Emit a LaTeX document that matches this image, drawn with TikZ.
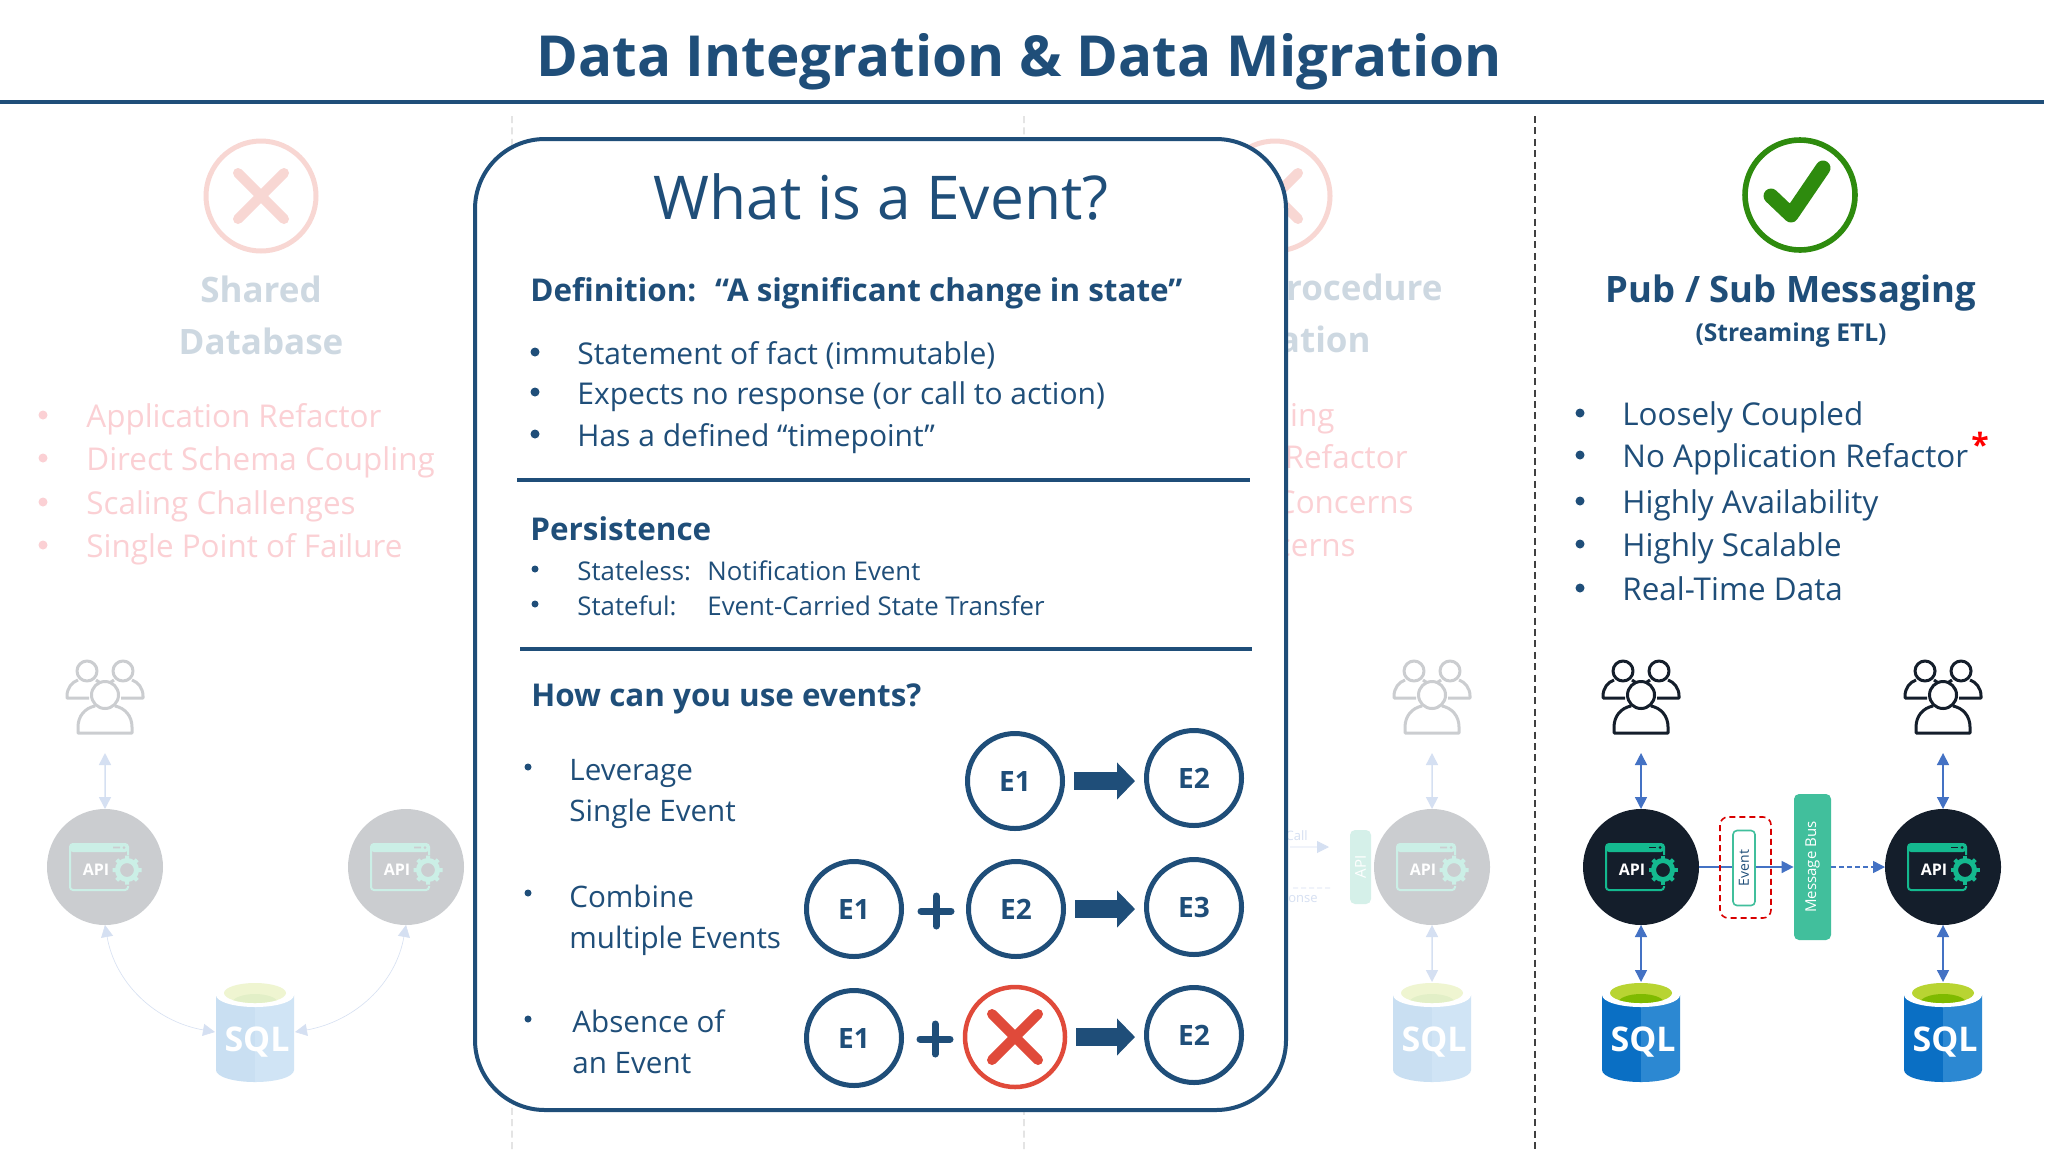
\documentclass[tikz,border=0pt]{standalone}
\usepackage{fontspec}
\setmainfont{Open Sans}
\usetikzlibrary{arrows.meta}

\definecolor{navy}{HTML}{1F4E79}
\definecolor{apidark}{HTML}{141E2B}
\definecolor{apigreen}{HTML}{14B98F}
\definecolor{busgreen}{HTML}{41BF9C}
\definecolor{linkblue}{HTML}{4472C4}
\definecolor{sqlleft}{HTML}{0A6FC4}
\definecolor{sqlright}{HTML}{2C88D2}
\definecolor{sqlcap}{HTML}{B8D432}
\definecolor{sqlcapdark}{HTML}{7FBA00}
\definecolor{crossred}{HTML}{E04A3A}
\definecolor{softred}{HTML}{EE2A3C}
\definecolor{okgreen}{HTML}{2E8B0E}

\newcommand{\fsz}[2]{\fontsize{#1pt}{#2pt}\selectfont}

\tikzset{
  headline/.style={text=navy, font=\fsz{28.3}{32}\bfseries, inner sep=0},
  colhead/.style={text=navy, font=\fsz{17.5}{26}\bfseries, align=center, inner sep=0},
  panelhead/.style={text=navy, font=\fsz{15.7}{18}\bfseries, anchor=west, inner sep=0},
  listitem/.style={text=navy, font=\fsz{15.7}{18}, anchor=west, inner sep=0, text height=1.5ex, text depth=.25ex},
  defitem/.style={listitem, font=\fsz{15}{18}},
  smallitem/.style={listitem, font=\fsz{12.9}{15}},
  useitem/.style={text=navy, font=\fsz{14.8}{20.5}, anchor=west, align=left, inner sep=0},
  reditem/.style={listitem, text=softred},
  bulletdot/.style={circle, fill=navy, inner sep=0, minimum size=4.5pt},
  smalldot/.style={bulletdot, minimum size=3.5pt},
  redring/.style={circle, draw=crossred, line width=2.5pt, inner sep=0, minimum size=55pt},
  redcross/.style={crossred, line width=5pt, line cap=round},
  okring/.style={circle, draw=okgreen, line width=2.8pt, inner sep=0, minimum size=55pt},
  dashrule/.style={draw=black!75, line width=.7pt, dash pattern=on 3.5pt off 2.2pt},
  panelbox/.style={draw=navy, fill=white, line width=2pt, rounded corners=35pt},
  sectionrule/.style={draw=navy, line width=1.75pt},
  eventnode/.style={circle, draw=navy, line width=2.5pt, inner sep=0, minimum size=47.5pt, text=navy, font=\fsz{14}{16}\bfseries},
  nonenode/.style={circle, draw=crossred, line width=2.25pt, inner sep=0, minimum size=50pt},
  bigarrow/.style={navy, line width=9pt, shorten <=4.5pt, shorten >=4.5pt, -{Triangle[length=9pt, width=18pt]}},
  plusmark/.style={navy, line width=3.5pt, line cap=round},
  linkboth/.style={linkblue, line width=.75pt, {Triangle[length=6pt, width=6pt]}-{Triangle[length=6pt, width=6pt]}},
  linkthin/.style={linkboth, line width=.3pt},
  linkone/.style={linkblue, line width=.75pt, -{Triangle[length=6pt, width=6pt]}},
  linkdash/.style={linkone, dash pattern=on 2.5pt off 1.5pt},
  eventring/.style={draw=red!85!black, line width=.8pt, dash pattern=on 3pt off 2pt, rounded corners=4pt},
  eventbox/.style={draw=busgreen, fill=white, line width=.8pt, rounded corners=2pt, inner sep=0, minimum width=37.5pt, minimum height=11pt, rotate=90, text=navy, font=\fsz{7}{8}},
  busbox/.style={fill=busgreen, rounded corners=2.5pt, inner sep=0, minimum width=73pt, minimum height=18.5pt, rotate=90, text=white, font=\fsz{7.5}{9}},
  apibar/.style={busbox, minimum width=37pt, minimum height=10.5pt},
  tinytext/.style={text=linkblue, font=\fsz{6.5}{8}, anchor=east, inner sep=0},
  apiicon/.pic={
    \node[circle, fill=apidark, inner sep=0, outer sep=0, minimum size=58pt] (-n) at (0,0) {};
    \fill[apigreen, rounded corners=1.5pt] (-35,-23) rectangle (23,-15);
    \draw[apigreen, line width=1pt, rounded corners=1.5pt] (23,-12) -- (23,-23) -- (-35,-23) -- (-35,23) -- (23,23) -- (23,19);
    \draw[apidark, line width=.8pt] (8,-19.5) -- (15,-19.5);
    \fill[apidark] (19,-19.5) circle (1.5);
    \node[text=white, font=\fsz{8}{9}\bfseries, inner sep=0] (-t) at (-9,3) {API};
    \draw[apigreen, line width=2.5pt] (22,3) circle (9.5);
    \foreach \a in {0,45,...,315}
      \draw[apigreen, line width=2pt] (22,3) ++(\a:11) -- ++(\a:3.5);
  },
  usersicon/.pic={
    \node[inner sep=0, outer sep=0, minimum size=56pt] (-n) at (0,0) {};
    \draw[apidark, line width=1.5pt, line join=round]
      (0,-2) circle (13.5) (-18,-26) circle (10) (18,-26) circle (10)
      (10,9) .. controls (20,11) and (27,19) .. (27,30) -- (27,36) -- (-27,36) -- (-27,30) .. controls (-27,19) and (-20,11) .. (-10,9)
      (-16,1) -- (-38,1) -- (-38,-1) .. controls (-38,-9) and (-33,-15) .. (-27,-17)
      (16,1) -- (38,1) -- (38,-1) .. controls (38,-9) and (33,-15) .. (27,-17)
      (-9,-17) -- (-6,-15) (9,-17) -- (6,-15);
  },
  sqlicon/.pic={
    \node[inner sep=0, outer sep=0, minimum width=40pt, minimum height=50pt] (-n) at (0,0) {};
    \fill[sqlleft] (0,-37) -- (-39,-37) -- (-39,38) .. controls (-39,45) and (-21,50) .. (0,50) -- cycle;
    \fill[sqlright] (0,-37) -- (39,-37) -- (39,38) .. controls (39,45) and (21,50) .. (0,50) -- cycle;
    \fill[white] (0,-37) ellipse [x radius=39, y radius=12];
    \fill[sqlcap] (0,-39) ellipse [x radius=31, y radius=10];
    \begin{scope}
      \clip (0,-39) ellipse [x radius=31, y radius=10];
      \fill[sqlcapdark] (0,-29) ellipse [x radius=23, y radius=9];
    \end{scope}
    \node[text=white, font=\fsz{17}{18}\bfseries, inner sep=0] (-t) at (2,10) {SQL};
  }
}

\begin{document}
\begin{tikzpicture}[x=.5pt, y=-.5pt]

\useasboundingbox (0,0) rectangle (2048,1152);
\fill[white] (0,0) rectangle (2048,1152);

\begin{scope}[transparency group, opacity=.22]
\draw[dashrule] (512,116) -- (512,1152);
\draw[dashrule] (1024,116) -- (1024,1152);

\node[redring] (crossA) at (261,196) {};
\draw[redcross] (crossA.center) ++(-23,-23) -- ++(46,46);
\draw[redcross] (crossA.center) ++(23,-23) -- ++(-46,46);
\node[colhead] (sharedHead) at (261,315) {Shared\\Database};

\foreach \ypos/\itemtext [count=\i] in {417/Application Refactor, 460/Direct Schema Coupling, 504/Scaling Challenges, 547/Single Point of Failure}{
  \node[bulletdot, fill=softred] (dbDot\i) at (43,\ypos-2) {};
  \node[reditem] (dbItem\i) at (86,\ypos+4) {\itemtext};
}

\pic (usersA) at (105,697) {usersicon};
\pic (apiA) at (105,867) {apiicon};
\pic (apiB) at (406,867) {apiicon};
\pic (sqlA) at (255,1032) {sqlicon};
\draw[linkboth] (usersA-n.south) -- (apiA-n.north);
\draw[linkthin] (apiA-n.south) to[out=-80, in=170] (sqlA-n.west);
\draw[linkthin] (apiB-n.south) to[out=-100, in=10] (sqlA-n.east);

\node[redring] (crossB) at (1275,196) {};
\draw[redcross] (crossB.center) ++(-23,-23) -- ++(46,46);
\draw[redcross] (crossB.center) ++(23,-23) -- ++(-46,46);
\node[colhead, anchor=east] (procHead) at (1443,287) {rocedure};
\node[colhead, anchor=east] (procTail) at (1371,339) {ation};

\node[reditem, anchor=east] (procItem1) at (1335,420) {ling};
\node[reditem, anchor=east] (procItem2) at (1408,462) {Refactor};
\node[reditem, anchor=east] (procItem3) at (1414,507) {Concerns};
\node[reditem, anchor=east] (procItem4) at (1356,550) {cerns};

\pic (usersB) at (1432,697) {usersicon};
\pic (apiC) at (1432,867) {apiicon};
\pic (sqlB) at (1432,1032) {sqlicon};
\draw[linkboth] (usersB-n.south) -- (apiC-n.north);
\draw[linkboth] (apiC-n.south) -- (sqlB-n.north);

\node[apibar] (apiBar) at (1360.5,867) {API};
\coordinate (callStart) at (1290,847);
\coordinate (callEnd) at (1329,847);
\coordinate (respStart) at (1330,888);
\coordinate (respEnd) at (1290,888);
\draw[linkone, line width=.4pt] (callStart) -- (callEnd);
\draw[linkblue, line width=.4pt, dash pattern=on 2.5pt off 1.5pt] (respStart) -- (respEnd);
\node[tinytext] (callText) at (1308,836) {Call};
\node[tinytext] (respText) at (1318,899) {onse};
\end{scope}

\node[headline] (titleText) at (1019,62) {Data Integration \& Data Migration};
\draw[sectionrule] (0,102) -- (2044,102);
\draw[dashrule] (1535,116) -- (1535,1152);

\draw[panelbox] (475,139) rectangle (1286,1110);
\node[text=navy, font=\fsz{30.2}{34}, inner sep=0] (panelTitle) at (881,197) {What is a Event?};

\node[panelhead] (defHead) at (530,293) {Definition:\hspace{.6em}“A significant change in state”};
\foreach \ypos/\itemtext [count=\i] in {354/Statement of fact (immutable), 394/Expects no response (or call to action), 436/Has a defined “timepoint”}{
  \node[bulletdot] (defDot\i) at (535,\ypos-2) {};
  \node[defitem] (defItem\i) at (577,\ypos+4) {\itemtext};
}
\draw[sectionrule] (517,480) -- (1250,480);

\node[panelhead] (persistHead) at (530,529) {Persistence};
\node[smalldot] (persistDot1) at (535,569) {};
\node[smallitem] (persistItem1) at (577,574) {Stateless:};
\node[smallitem] (persistText1) at (707,574) {Notification Event};
\node[smalldot] (persistDot2) at (535,604) {};
\node[smallitem] (persistItem2) at (577,609) {Stateful:};
\node[smallitem] (persistText2) at (707,609) {Event-Carried State Transfer};
\draw[sectionrule] (520,649) -- (1252,649);

\node[panelhead] (useHead) at (531,699) {How can you use events?};
\node[smalldot] (useDot1) at (528,767) {};
\node[useitem] (useItem1) at (569,794) {Leverage\\Single Event};
\node[smalldot] (useDot2) at (528,893) {};
\node[useitem] (useItem2) at (569,920) {Combine\\multiple Events};
\node[smalldot] (useDot3) at (528,1019) {};
\node[useitem] (useItem3) at (572,1042) {Absence of\\an Event};

\node[eventnode] (oneA) at (1015,781) {E1};
\node[eventnode] (oneB) at (1194,778) {E2};
\draw[bigarrow] (oneA.east) -- (oneA.east -| oneB.west);

\node[eventnode] (twoA) at (854,909) {E1};
\node[eventnode] (twoB) at (1016,909) {E2};
\node[eventnode] (twoC) at (1194,907) {E3};
\draw[plusmark] (921,911) -- (951,911);
\draw[plusmark] (936,896) -- (936,926);
\draw[bigarrow] (twoB.east) -- (twoB.east -| twoC.west);

\node[eventnode] (threeA) at (854,1038) {E1};
\node[nonenode] (threeB) at (1015,1037) {};
\node[eventnode] (threeC) at (1194,1035) {E2};
\draw[plusmark] (920,1039) -- (950,1039);
\draw[plusmark] (935,1024) -- (935,1054);
\draw[redcross] (threeB.center) ++(-23,-23) -- ++(46,46);
\draw[redcross] (threeB.center) ++(23,-23) -- ++(-46,46);
\draw[bigarrow] (threeB.east) -- (threeB.east -| threeC.west);

\node[okring] (okMark) at (1800,195) {};
\draw[okgreen, line width=7.5pt, line cap=round, line join=round] (okMark.center) ++(-29,1) -- ++(20,19) -- ++(32,-47);
\node[text=navy, font=\fsz{18.2}{22}\bfseries, inner sep=0] (pubHead) at (1791,293) {Pub / Sub Messaging};
\node[text=navy, font=\fsz{12.3}{15}\bfseries, inner sep=0] (pubSub) at (1791,335) {(Streaming ETL)};

\foreach \ypos/\itemtext [count=\i] in {415/Loosely Coupled, 457/No Application Refactor, 503/Highly Availability, 546/Highly Scalable, 590/Real-Time Data}{
  \node[bulletdot] (pubDot\i) at (1580,\ypos-2) {};
  \node[listitem] (pubItem\i) at (1622,\ypos+4) {\itemtext};
}
\node[text=red, font=\fsz{16}{18}\bfseries, inner sep=0] (pubStar) at (1980,444) {*};

\pic (usersL) at (1641,697) {usersicon};
\pic (usersR) at (1943,697) {usersicon};
\pic (apiL) at (1641,867) {apiicon};
\pic (apiR) at (1943,867) {apiicon};
\pic (sqlL) at (1641,1032) {sqlicon};
\pic (sqlR) at (1943,1032) {sqlicon};
\node[busbox] (msgBus) at (1812.5,867) {Message Bus};

\draw[linkboth] (usersL-n.south) -- (apiL-n.north);
\draw[linkboth] (apiL-n.south) -- (sqlL-n.north);
\draw[linkboth] (usersR-n.south) -- (apiR-n.north);
\draw[linkboth] (apiR-n.south) -- (sqlR-n.north);
\draw[linkone] (apiL-n.east) -- (msgBus.north);
\draw[linkdash] (msgBus.south) -- (apiR-n.west);

\draw[eventring] (1720,817) rectangle (1771,918);
\node[eventbox] (eventTag) at (1744,868) {Event};

\end{tikzpicture}
\end{document}
